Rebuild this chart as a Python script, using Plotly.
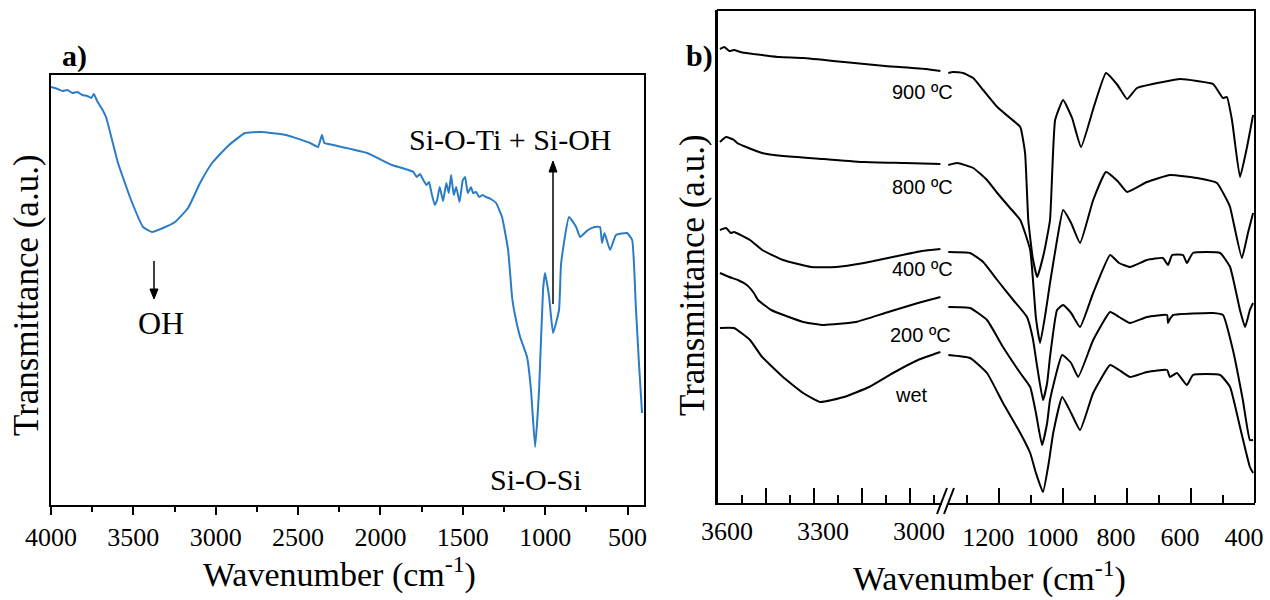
import plotly.graph_objects as go

W, H = 1270, 600

# ---------------- Panel a: FTIR (blue) ----------------
wn_a = [4000, 3960, 3930, 3900, 3870, 3840, 3810, 3780, 3755, 3740,
        3720, 3690, 3666, 3593, 3514, 3441, 3387, 3320, 3247, 3168,
        3095, 3022, 2919, 2822, 2725, 2573, 2427, 2379, 2355, 2340,
        2288, 2081, 1930, 1830, 1800, 1780, 1760, 1740, 1720, 1705,
        1690, 1670, 1656, 1640, 1620, 1600, 1585, 1571, 1555, 1540,
        1520, 1500, 1486, 1470, 1450, 1438, 1420, 1400, 1380, 1359,
        1330, 1298, 1262, 1225, 1201, 1189, 1152, 1110, 1086, 1061,
        1037, 1013, 1001, 976, 952, 916, 903, 855, 812, 788,
        740, 700, 667, 655, 640, 606, 570, 503, 472, 450,
        430, 412]
t_a = [418, 416, 414, 415, 412, 413, 410, 409, 407, 411,
       404, 396, 388, 342, 305, 278, 273, 277, 283, 297,
       322, 342, 360, 372, 373, 370, 362, 358, 370, 362,
       360, 352, 340, 335, 333, 328, 331, 325, 320, 323,
       312, 300, 305, 318, 304, 322, 312, 330, 310, 318,
       303, 325, 328, 312, 318, 312, 313, 308, 310, 308,
       306, 302, 288, 255, 208, 195, 168, 148, 115, 58,
       115, 215, 232, 208, 172, 195, 242, 288, 278, 268,
       275, 278, 278, 262, 272, 255, 270, 272, 265, 200,
       140, 92]

ticks_a = [4000, 3500, 3000, 2500, 2000, 1500, 1000, 500]
minor_a = [3750, 3250, 2750, 2250, 1750, 1250, 750]

# ---------------- Panel b: broken axis (hi = 3600-2900, lo = 1360-400) ----------------
wn_900_hi = [3594, 3580, 3565, 3550, 3530, 3512, 3490, 3462, 3409, 3334, 3206, 3078, 2950, 2905]
t_900_hi = [454, 456, 452, 453, 451, 450, 449, 448, 446, 445, 441, 437, 434, 432]
wn_900_lo = [1359, 1344, 1313, 1281, 1250, 1206, 1166, 1134, 1119, 1109, 1095, 1081, 1060, 1041,
             1025, 1000, 972, 944, 905, 866, 830, 800, 769, 688, 634, 581, 531, 500, 488, 472,
             447, 425, 406]
t_900_lo = [430, 431, 430, 425, 413, 396, 385, 376, 350, 283, 245, 226, 250, 283,
            383, 403, 385, 356, 395, 430, 418, 404, 415, 421, 424, 422, 419, 405, 406, 383,
            326, 356, 388]

wn_800_hi = [3594, 3575, 3550, 3540, 3512, 3462, 3397, 3269, 3144, 3016, 2905]
t_800_hi = [361, 366, 363, 360, 356, 350, 347, 344, 341, 340, 339]
wn_800_lo = [1359, 1331, 1281, 1238, 1206, 1166, 1134, 1103, 1085, 1072, 1055, 1041, 1019, 1000,
             975, 947, 906, 866, 830, 800, 738, 666, 581, 519, 488, 478, 441, 422, 406]
t_800_lo = [338, 340, 335, 323, 310, 295, 283, 253, 185, 160, 190, 220, 263, 293,
            280, 260, 303, 331, 322, 311, 321, 328, 325, 320, 303, 296, 245, 270, 290]

wn_400_hi = [3594, 3575, 3560, 3550, 3500, 3462, 3397, 3309, 3231, 3144, 3053, 2963, 2905]
t_400_hi = [273, 275, 270, 271, 263, 253, 243, 236, 236, 240, 246, 252, 254]
wn_400_lo = [1359, 1291, 1250, 1206, 1156, 1113, 1095, 1081, 1063, 1050, 1041, 1019, 1000, 975,
             947, 906, 853, 825, 791, 738, 688, 672, 659, 625, 613, 594, 509, 478, 447, 431,
             416, 406]
t_400_lo = [251, 250, 241, 223, 203, 186, 165, 136, 103, 120, 146, 193, 198, 190,
            176, 210, 248, 240, 236, 243, 245, 238, 248, 248, 240, 250, 250, 236, 193, 176,
            193, 200]

wn_200_hi = [3594, 3565, 3538, 3510, 3488, 3475, 3434, 3334, 3269, 3169, 3078, 2975, 2905]
t_200_hi = [230, 226, 223, 218, 210, 203, 193, 181, 178, 181, 190, 200, 206]
wn_200_lo = [1359, 1291, 1238, 1188, 1134, 1103, 1085, 1066, 1050, 1041, 1003, 975, 953, 906,
             853, 825, 791, 738, 675, 672, 666, 656, 531, 500, 469, 438, 416, 406]
t_200_lo = [196, 195, 183, 156, 130, 116, 90, 58, 80, 103, 148, 140, 126, 163,
            191, 186, 180, 186, 188, 180, 184, 188, 190, 188, 153, 103, 63, 63]

wn_wet_hi = [3594, 3550, 3500, 3462, 3397, 3334, 3281, 3206, 3128, 3053, 2975, 2905]
t_wet_hi = [175, 175, 163, 146, 126, 110, 101, 106, 116, 130, 143, 151]
wn_wet_lo = [1359, 1291, 1238, 1188, 1134, 1103, 1085, 1063, 1045, 1031, 1003, 975, 947, 906,
             853, 825, 791, 738, 675, 666, 644, 613, 594, 509, 478, 447, 416, 406]
t_wet_lo = [148, 145, 130, 100, 70, 50, 30, 11, 40, 70, 106, 90, 73, 110,
            138, 133, 126, 131, 133, 126, 130, 118, 128, 128, 116, 76, 36, 30]

sample_labels = ["900 ºC", "800 ºC", "400 ºC", "200 ºC", "wet"]

ticks_b_hi = [3600, 3450, 3300, 3150, 3000]
labels_b_hi = [3600, 3300, 3000]
minor_b_hi = [3525, 3375, 3225, 3075, 2925]
ticks_b_lo = [1200, 1000, 800, 600, 400]
minor_b_lo = [1300, 1100, 900, 700, 500]


def px(x):
    return x / W


def py(y):
    return 1 - y / H


SERIF = "Liberation Serif, Times New Roman, serif"
SANS = "Liberation Sans, Arial, sans-serif"
BLUE = "#2b7cc6"

fig = go.Figure()
fig.add_trace(go.Scatter(x=wn_a, y=t_a, mode="lines", xaxis="x", yaxis="y",
                         line=dict(color=BLUE, width=2, shape="spline", smoothing=0.4),
                         showlegend=False, hoverinfo="skip"))

# high-wavenumber segment: ticks axis x2 and labelled overlay axis x4 (same domain and range)
hi_series = [(wn_900_hi, t_900_hi, "x2"), (wn_800_hi, t_800_hi, "x2"),
             (wn_400_hi, t_400_hi, "x4"), (wn_200_hi, t_200_hi, "x4"),
             (wn_wet_hi, t_wet_hi, "x4")]
for wn, t, xa in hi_series:
    fig.add_trace(go.Scatter(x=wn, y=t, mode="lines", xaxis=xa, yaxis="y2",
                             line=dict(color="black", width=2, shape="spline", smoothing=0.4),
                             showlegend=False, hoverinfo="skip"))
for wn, t in [(wn_900_lo, t_900_lo), (wn_800_lo, t_800_lo), (wn_400_lo, t_400_lo),
              (wn_200_lo, t_200_lo), (wn_wet_lo, t_wet_lo)]:
    fig.add_trace(go.Scatter(x=wn, y=t, mode="lines", xaxis="x3", yaxis="y2",
                             line=dict(color="black", width=2, shape="spline", smoothing=0.4),
                             showlegend=False, hoverinfo="skip"))

tickfont = dict(family=SERIF, size=26, color="black")

fig.update_layout(
    template="none",
    width=W, height=H, margin=dict(l=0, r=0, t=0, b=0, autoexpand=False),
    paper_bgcolor="white", plot_bgcolor="white",
    xaxis=dict(domain=[px(51), px(644)], range=[4000, 400], anchor="y", automargin=False,
               showline=True, linecolor="black", linewidth=2, mirror=True,
               ticks="outside", ticklen=8, tickwidth=2, tickcolor="black",
               tickvals=ticks_a, ticktext=[str(v) for v in ticks_a], tickfont=tickfont,
               minor=dict(tickmode="array", tickvals=minor_a, ticks="outside", ticklen=5,
                          tickwidth=2, tickcolor="black", showgrid=False),
               showgrid=False, zeroline=False),
    yaxis=dict(domain=[py(505), py(75)], range=[0, 430], anchor="x", automargin=False,
               showline=True, linecolor="black", linewidth=2, mirror=True,
               showticklabels=False, ticks="", showgrid=False, zeroline=False),
    xaxis2=dict(domain=[px(718), px(942)], range=[3600, 2900], anchor="y2", automargin=False,
                showline=True, linecolor="black", linewidth=2,
                ticks="inside", ticklen=15, tickwidth=2, tickcolor="black",
                tickvals=ticks_b_hi, showticklabels=False,
                minor=dict(tickmode="array", tickvals=minor_b_hi, ticks="inside", ticklen=8,
                           tickwidth=2, tickcolor="black", showgrid=False),
                showgrid=False, zeroline=False),
    xaxis4=dict(domain=[px(718), px(942)], range=[3600, 2900], anchor="y2", overlaying="x2",
                automargin=False, showline=False, ticks="",
                tickvals=labels_b_hi, ticktext=[str(v) for v in labels_b_hi], tickfont=tickfont,
                ticklabelshift=-9, ticklabelstandoff=10, ticklabeloverflow="allow",
                showgrid=False, zeroline=False),
    xaxis3=dict(domain=[px(948), px(1255)], range=[1360, 400], anchor="y2", automargin=False,
                showline=True, linecolor="black", linewidth=2,
                ticks="inside", ticklen=15, tickwidth=2, tickcolor="black",
                tickvals=ticks_b_lo, ticktext=[str(v) for v in ticks_b_lo], tickfont=tickfont,
                ticklabelshift=11, ticklabelstandoff=10, ticklabeloverflow="allow",
                minor=dict(tickmode="array", tickvals=minor_b_lo, ticks="inside", ticklen=8,
                           tickwidth=2, tickcolor="black", showgrid=False),
                showgrid=False, zeroline=False),
    yaxis2=dict(domain=[py(503), py(10)], range=[0, 493], anchor="x2", automargin=False,
                showline=True, linecolor="black", linewidth=3,
                showticklabels=False, ticks="", showgrid=False, zeroline=False),
)


def seg(x0, y0, x1, y1, w=2):
    return dict(type="line", xref="paper", yref="paper", x0=px(x0), x1=px(x1),
                y0=py(y0), y1=py(y1), line=dict(color="black", width=w))


def tri(pts):
    d = "M " + " L ".join(f"{px(x):.5f},{py(y):.5f}" for x, y in pts) + " Z"
    return dict(type="path", xref="paper", yref="paper", path=d,
                fillcolor="black", line=dict(color="black", width=1))


shapes = [
    seg(717, 10, 1256, 10),
    seg(1255, 10, 1255, 503),
    seg(937, 514, 947, 488),
    seg(944, 514, 954, 488),
    # OH arrow (pointing down)
    seg(154, 261, 154, 290, 1.5),
    tri([(150, 289), (158, 289), (154, 299)]),
    # Si-O-Ti arrow (pointing up)
    seg(553, 304, 553, 170, 1.5),
    tri([(549, 172), (557, 172), (553, 161)]),
]
fig.update_layout(shapes=shapes)


def txt(x, y, s, size, family=SERIF, angle=0, bold=False):
    if bold:
        s = "<b>" + s + "</b>"
    return dict(x=px(x), y=py(y), xref="paper", yref="paper", text=s, showarrow=False,
                xanchor="center", yanchor="middle", textangle=angle,
                font=dict(family=family, size=size, color="black"))


ann = [
    txt(74, 56, "a)", 30, bold=True),
    txt(699, 56, "b)", 30, bold=True),
    txt(510, 139, "Si-O-Ti + Si-OH", 30),
    txt(161, 323, "OH", 32),
    txt(536, 479, "Si-O-Si", 30),
    txt(339, 572, "Wavenumber (cm<sup>-1</sup>)", 34),
    txt(989, 576, "Wavenumber (cm<sup>-1</sup>)", 34),
    txt(26, 295, "Transmittance (a.u.)", 35, angle=-90),
    txt(693, 275, "Transmittance (a.u.)", 35, angle=-90),
]
label_pos = [(922, 92), (922, 187), (922, 269), (920, 335), (911, 395)]
for s, (x, y) in zip(sample_labels, label_pos):
    ann.append(txt(x, y, s, 20, family=SANS))

fig.update_layout(annotations=ann)

fig.write_html("out.html")
